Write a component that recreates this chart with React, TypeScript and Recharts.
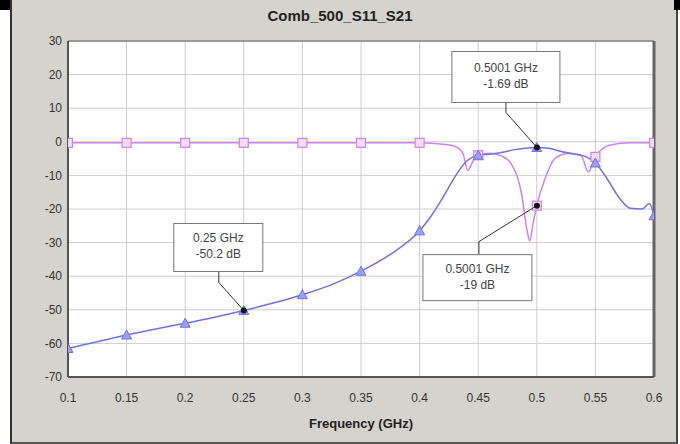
import {
  LineChart,
  Line,
  XAxis,
  YAxis,
  CartesianGrid,
  ReferenceLine,
  ReferenceDot,
} from "recharts";

const FREQ_TICKS = [0.1, 0.15, 0.2, 0.25, 0.3, 0.35, 0.4, 0.45, 0.5, 0.55, 0.6];
const DB_TICKS = [-70, -60, -50, -40, -30, -20, -10, 0, 10, 20, 30];
const MARKER_FREQS = [0.1, 0.15, 0.2, 0.25, 0.3, 0.35, 0.4, 0.45, 0.5, 0.55, 0.6];

// S21 (blue, triangles)
const S21_FREQ = [
  0.1, 0.125, 0.15, 0.175, 0.2, 0.225, 0.25, 0.275, 0.3, 0.325, 0.35, 0.375,
  0.4, 0.41, 0.42, 0.43, 0.44, 0.45, 0.46, 0.47, 0.48, 0.49, 0.5, 0.51, 0.52,
  0.53, 0.54, 0.55, 0.56, 0.57, 0.58, 0.59, 0.596, 0.6,
];
const S21_DB = [
  -61.5, -59.5, -57.5, -55.7, -54, -52.2, -50.2, -48, -45.5, -42.5, -38.5,
  -33.5, -26.5, -22, -16.5, -10.5, -5.8, -4, -3.7, -3.2, -2.4, -1.9, -1.69,
  -1.9, -2.8, -3.5, -4.2, -6.3, -11, -16.5, -19.8, -20, -18.4, -22,
];

// S11 (magenta, squares)
const S11_FREQ = [
  0.1, 0.15, 0.2, 0.25, 0.3, 0.35, 0.4, 0.41, 0.42, 0.43, 0.437, 0.441, 0.446,
  0.45, 0.46, 0.47, 0.478, 0.487, 0.492, 0.494, 0.497, 0.5, 0.507, 0.516,
  0.527, 0.538, 0.544, 0.55, 0.562, 0.58, 0.6,
];
const S11_DB = [
  -0.3, -0.3, -0.3, -0.3, -0.3, -0.3, -0.3, -0.4, -0.7, -1.3, -3.5, -8.5,
  -5.5, -4, -3.4, -4.2, -6.5, -15.5, -27, -29.5, -24, -19, -11, -4.8, -3.5,
  -4.2, -9, -4.5, -1, -0.3, -0.3,
];

// marker read-outs
const CALLOUT_FREQ = [0.25, 0.5001, 0.5001];
const CALLOUT_DB = [-50.2, -1.69, -19];

// box placement relative to the marked point (px)
const CALLOUT_BOX = [
  { dx: -70, dy: -87, w: 89, h: 48, lx: -25, ly: -39, ey: -28 },
  { dx: -85, dy: -96, w: 108, h: 51, lx: -31, ly: -45, ey: -35 },
  { dx: -114, dy: 49, w: 109, h: 46, lx: -58, ly: 49, ey: 36 },
];

const BLUE = "#6f72ea";
const PINK = "#cf82ee";

const s21Data = S21_FREQ.map((f, i) => ({ f, db: S21_DB[i] }));
const s11Data = S11_FREQ.map((f, i) => ({ f, db: S11_DB[i] }));

const isMarker = (f: number) => MARKER_FREQS.some((m) => Math.abs(m - f) < 1e-6);

const TriangleDot = (props: any) => {
  const { cx, cy, payload, index } = props;
  if (!isMarker(payload.f)) return <g key={`t-${index}`} />;
  return (
    <path
      key={`t-${index}`}
      d={`M${cx},${cy - 5} L${cx + 5},${cy + 4} L${cx - 5},${cy + 4} Z`}
      fill="#9c9ff5"
      stroke={BLUE}
      strokeWidth={1}
    />
  );
};

const SquareDot = (props: any) => {
  const { cx, cy, payload, index } = props;
  if (!isMarker(payload.f)) return <g key={`s-${index}`} />;
  return (
    <rect
      key={`s-${index}`}
      x={cx - 4.5}
      y={cy - 4.5}
      width={9}
      height={9}
      fill="#f3ddfb"
      stroke={PINK}
      strokeWidth={1.2}
    />
  );
};

const Callout = ({ cx, cy, i }: { cx: number; cy: number; i: number }) => {
  const b = CALLOUT_BOX[i];
  const x = cx + b.dx;
  const y = cy + b.dy;
  return (
    <g>
      <polyline
        points={`${cx + b.lx},${cy + b.ly} ${cx + b.lx},${cy + b.ey} ${cx},${cy}`}
        fill="none"
        stroke="#333"
        strokeWidth={1}
      />
      <circle cx={cx} cy={cy} r={3} fill="#111" />
      <rect x={x} y={y} width={b.w} height={b.h} fill="#fff" stroke="#777" strokeWidth={1} />
      <text
        x={x + b.w / 2}
        y={y + b.h / 2 - 5}
        textAnchor="middle"
        fontSize={12}
        fill="#444"
      >
        {`${CALLOUT_FREQ[i]} GHz`}
      </text>
      <text
        x={x + b.w / 2}
        y={y + b.h / 2 + 11}
        textAnchor="middle"
        fontSize={12}
        fill="#444"
      >
        {`${CALLOUT_DB[i]} dB`}
      </text>
    </g>
  );
};

const App = () => {
  return (
    <div
      style={{
        position: "relative",
        width: 680,
        height: 444,
        background: "#fff",
        overflow: "hidden",
        fontFamily: '"Liberation Sans", Arial, sans-serif',
      }}
    >
      <style>{`body{margin:0}`}</style>
      <div
        style={{
          position: "absolute",
          left: 10,
          top: 0,
          width: 664,
          height: 442,
          background: "#d6d3cf",
          borderLeft: "2px solid #333",
          borderRight: "2px solid #444",
          borderBottom: "2px solid #555",
        }}
      />
      <div style={{ position: "absolute", left: 0, top: 0, width: 10, height: 10, background: "#000" }} />
      <div style={{ position: "absolute", left: 674, top: 0, width: 6, height: 10, background: "#000" }} />
      <div
        style={{
          position: "absolute",
          left: 0,
          width: 680,
          top: 7,
          textAlign: "center",
          fontWeight: "bold",
          fontSize: 15,
          color: "#222",
        }}
      >
        Comb_500_S11_S21
      </div>
      <div
        style={{
          position: "absolute",
          left: 68,
          width: 586,
          top: 416,
          textAlign: "center",
          fontWeight: "bold",
          fontSize: 13,
          color: "#222",
        }}
      >
        Frequency (GHz)
      </div>
      <div style={{ position: "absolute", left: 0, top: 0 }}>
        <LineChart
          width={680}
          height={444}
          margin={{ top: 41, right: 26, bottom: 37, left: 18 }}
        >
          <CartesianGrid stroke="#cdcdcd" fill="#fff" />
          <XAxis
            type="number"
            dataKey="f"
            domain={[0.1, 0.6]}
            ticks={FREQ_TICKS}
            allowDataOverflow
            height={30}
            tickLine={false}
            tickSize={10}
            tickMargin={6}
            axisLine={{ stroke: "#555", strokeWidth: 2 }}
            tick={{ fill: "#333", fontSize: 12 }}
          />
          <YAxis
            type="number"
            domain={[-70, 30]}
            ticks={DB_TICKS}
            allowDataOverflow
            width={50}
            tickLine={false}
            tickSize={4}
            tickMargin={2}
            axisLine={{ stroke: "#555", strokeWidth: 2 }}
            tick={{ fill: "#333", fontSize: 12 }}
          />
          <ReferenceLine y={30} stroke="#999" strokeWidth={2} />
          <ReferenceLine x={0.6} stroke="#666" strokeWidth={3} />
          <Line
            data={s11Data}
            dataKey="db"
            type="monotone"
            stroke={PINK}
            strokeWidth={1.5}
            dot={SquareDot}
            activeDot={false}
            isAnimationActive={false}
          />
          <Line
            data={s21Data}
            dataKey="db"
            type="monotone"
            stroke={BLUE}
            strokeWidth={1.5}
            dot={TriangleDot}
            activeDot={false}
            isAnimationActive={false}
          />
          {CALLOUT_FREQ.map((f, i) => (
            <ReferenceDot
              key={`c-${i}`}
              x={f}
              y={CALLOUT_DB[i]}
              ifOverflow="visible"
              shape={(p: any) => <Callout cx={p.cx} cy={p.cy} i={i} />}
            />
          ))}
        </LineChart>
      </div>
    </div>
  );
};

export default App;
